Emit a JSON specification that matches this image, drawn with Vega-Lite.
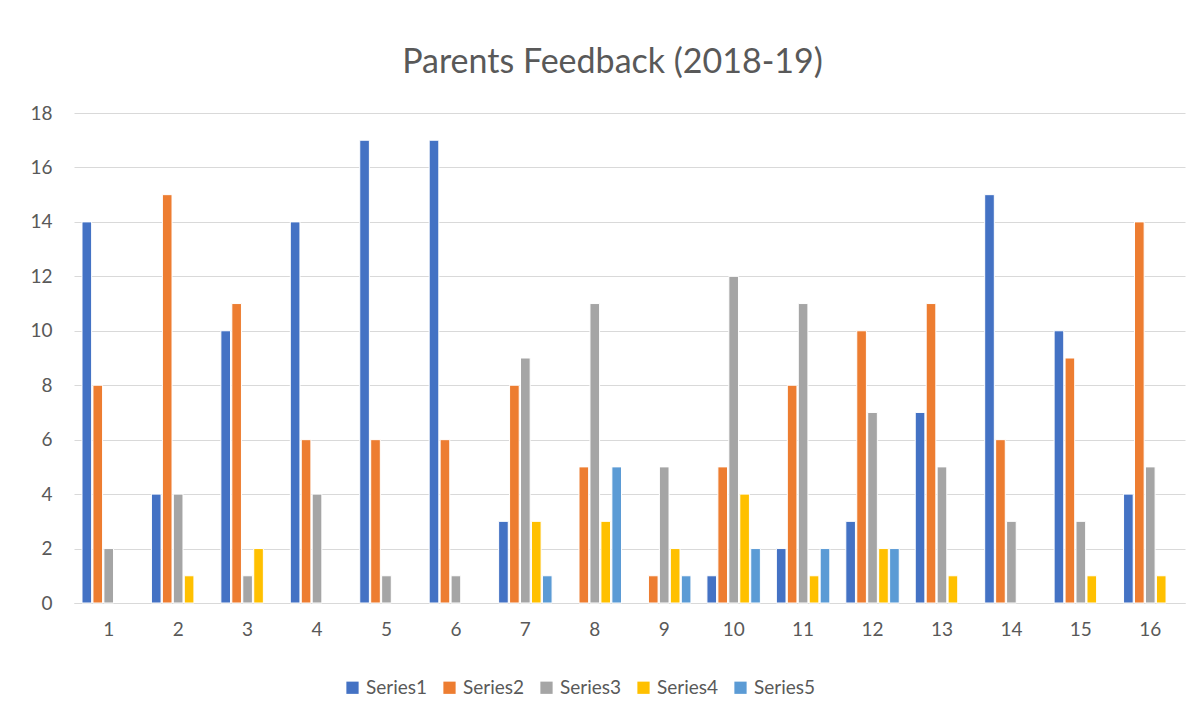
{
  "$schema": "https://vega.github.io/schema/vega-lite/v6.json",
  "autosize": {"type": "none"},
  "padding": {"left": 74, "top": 113, "right": 15, "bottom": 114},
  "width": 1111,
  "height": 490,
  "background": "white",
  "title": {
    "text": "Parents Feedback (2018-19)",
    "font": "Lato",
    "fontSize": 34,
    "fontWeight": "normal",
    "color": "#595959",
    "anchor": "middle",
    "offset": 24,
    "dx": -17
  },
  "data": {
    "values": [
      {"Category": 1, "Series": "Series1", "Value": 14},
      {"Category": 1, "Series": "Series2", "Value": 8},
      {"Category": 1, "Series": "Series3", "Value": 2},
      {"Category": 2, "Series": "Series1", "Value": 4},
      {"Category": 2, "Series": "Series2", "Value": 15},
      {"Category": 2, "Series": "Series3", "Value": 4},
      {"Category": 2, "Series": "Series4", "Value": 1},
      {"Category": 3, "Series": "Series1", "Value": 10},
      {"Category": 3, "Series": "Series2", "Value": 11},
      {"Category": 3, "Series": "Series3", "Value": 1},
      {"Category": 3, "Series": "Series4", "Value": 2},
      {"Category": 4, "Series": "Series1", "Value": 14},
      {"Category": 4, "Series": "Series2", "Value": 6},
      {"Category": 4, "Series": "Series3", "Value": 4},
      {"Category": 5, "Series": "Series1", "Value": 17},
      {"Category": 5, "Series": "Series2", "Value": 6},
      {"Category": 5, "Series": "Series3", "Value": 1},
      {"Category": 6, "Series": "Series1", "Value": 17},
      {"Category": 6, "Series": "Series2", "Value": 6},
      {"Category": 6, "Series": "Series3", "Value": 1},
      {"Category": 7, "Series": "Series1", "Value": 3},
      {"Category": 7, "Series": "Series2", "Value": 8},
      {"Category": 7, "Series": "Series3", "Value": 9},
      {"Category": 7, "Series": "Series4", "Value": 3},
      {"Category": 7, "Series": "Series5", "Value": 1},
      {"Category": 8, "Series": "Series2", "Value": 5},
      {"Category": 8, "Series": "Series3", "Value": 11},
      {"Category": 8, "Series": "Series4", "Value": 3},
      {"Category": 8, "Series": "Series5", "Value": 5},
      {"Category": 9, "Series": "Series2", "Value": 1},
      {"Category": 9, "Series": "Series3", "Value": 5},
      {"Category": 9, "Series": "Series4", "Value": 2},
      {"Category": 9, "Series": "Series5", "Value": 1},
      {"Category": 10, "Series": "Series1", "Value": 1},
      {"Category": 10, "Series": "Series2", "Value": 5},
      {"Category": 10, "Series": "Series3", "Value": 12},
      {"Category": 10, "Series": "Series4", "Value": 4},
      {"Category": 10, "Series": "Series5", "Value": 2},
      {"Category": 11, "Series": "Series1", "Value": 2},
      {"Category": 11, "Series": "Series2", "Value": 8},
      {"Category": 11, "Series": "Series3", "Value": 11},
      {"Category": 11, "Series": "Series4", "Value": 1},
      {"Category": 11, "Series": "Series5", "Value": 2},
      {"Category": 12, "Series": "Series1", "Value": 3},
      {"Category": 12, "Series": "Series2", "Value": 10},
      {"Category": 12, "Series": "Series3", "Value": 7},
      {"Category": 12, "Series": "Series4", "Value": 2},
      {"Category": 12, "Series": "Series5", "Value": 2},
      {"Category": 13, "Series": "Series1", "Value": 7},
      {"Category": 13, "Series": "Series2", "Value": 11},
      {"Category": 13, "Series": "Series3", "Value": 5},
      {"Category": 13, "Series": "Series4", "Value": 1},
      {"Category": 14, "Series": "Series1", "Value": 15},
      {"Category": 14, "Series": "Series2", "Value": 6},
      {"Category": 14, "Series": "Series3", "Value": 3},
      {"Category": 15, "Series": "Series1", "Value": 10},
      {"Category": 15, "Series": "Series2", "Value": 9},
      {"Category": 15, "Series": "Series3", "Value": 3},
      {"Category": 15, "Series": "Series4", "Value": 1},
      {"Category": 16, "Series": "Series1", "Value": 4},
      {"Category": 16, "Series": "Series2", "Value": 14},
      {"Category": 16, "Series": "Series3", "Value": 5},
      {"Category": 16, "Series": "Series4", "Value": 1}
    ]
  },
  "mark": {"type": "bar", "stroke": "white", "strokeWidth": 1},
  "encoding": {
    "x": {
      "field": "Category",
      "type": "ordinal",
      "scale": {"paddingInner": 0.23, "paddingOuter": 0.115},
      "axis": {
        "title": null,
        "labelAngle": 0,
        "ticks": false,
        "domainColor": "#d9d9d9",
        "domainWidth": 1,
        "labelFont": "Lato",
        "labelFontSize": 19,
        "labelColor": "#595959",
        "labelPadding": 17
      }
    },
    "xOffset": {
      "field": "Series",
      "type": "nominal",
      "scale": {"domain": ["Series1", "Series2", "Series3", "Series4", "Series5"], "paddingInner": 0.12}
    },
    "y": {
      "field": "Value",
      "type": "quantitative",
      "scale": {"domain": [0, 18], "nice": false},
      "axis": {
        "title": null,
        "values": [0, 2, 4, 6, 8, 10, 12, 14, 16, 18],
        "ticks": false,
        "domain": false,
        "gridColor": "#d9d9d9",
        "gridWidth": 1.2,
        "labelFont": "Lato",
        "labelFontSize": 19,
        "labelColor": "#595959",
        "labelPadding": 22
      }
    },
    "color": {
      "field": "Series",
      "type": "nominal",
      "scale": {
        "domain": ["Series1", "Series2", "Series3", "Series4", "Series5"],
        "range": ["#4472C4", "#ED7D31", "#A5A5A5", "#FFC000", "#5B9BD5"]
      },
      "legend": {
        "title": null,
        "orient": "none",
        "legendX": 269,
        "legendY": 565,
        "direction": "horizontal",
        "columns": 5,
        "symbolType": "square",
        "symbolSize": 150,
        "symbolStrokeWidth": 0,
        "labelFont": "Lato",
        "labelFontSize": 19,
        "labelColor": "#595959",
        "labelOffset": 4,
        "columnPadding": 12
      }
    }
  },
  "config": {
    "view": {"stroke": null}
  }
}
